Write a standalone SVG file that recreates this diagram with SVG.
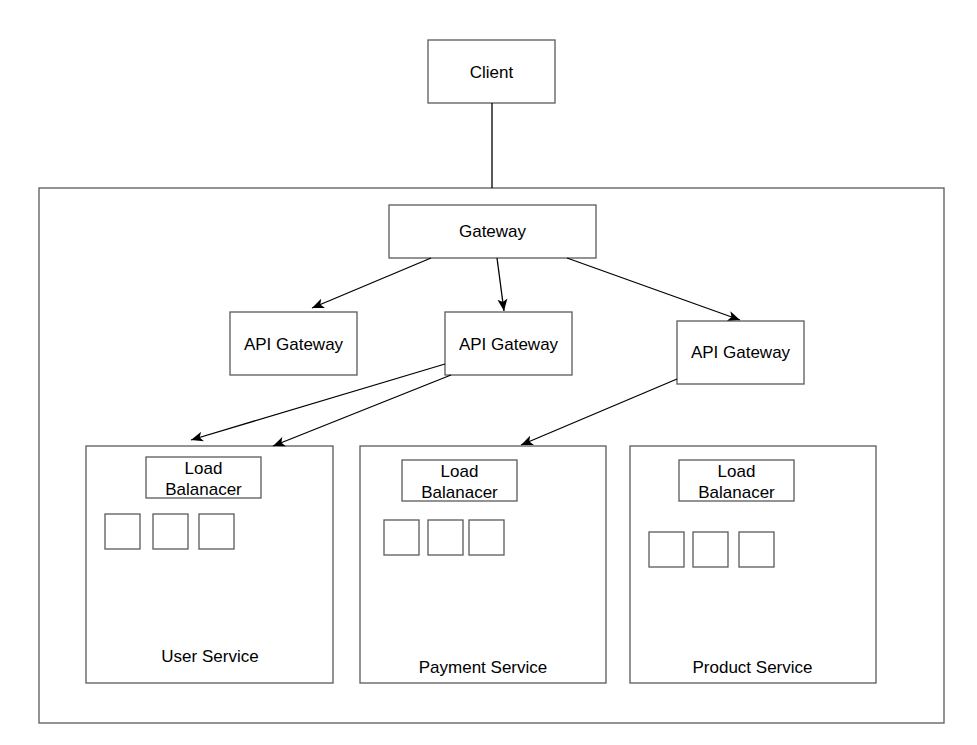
<svg xmlns="http://www.w3.org/2000/svg" width="977" height="745" viewBox="0 0 977 745">
<defs>
<style>
.box{fill:#ffffff;stroke:#5a5a5a;stroke-width:1.3}
.edge{fill:none;stroke:#000000;stroke-width:1.3}
text{font-family:"Liberation Sans",Arial,sans-serif;font-size:17px;fill:#000000;text-anchor:middle}
</style>
<marker id="arr" markerWidth="14" markerHeight="11" refX="12" refY="5.5" orient="auto" markerUnits="userSpaceOnUse">
<path d="M0,0.5 L12,5.5 L0,10.5 L3,5.5 Z" fill="#000000"/>
</marker>
</defs>
<rect width="977" height="745" fill="#ffffff"/>
<g id="container"><rect class="box" x="39" y="188" width="905" height="535"/></g>
<g id="client"><rect class="box" x="428" y="40" width="127" height="63"/><text x="491.5" y="78">Client</text></g>
<g id="gateway"><rect class="box" x="389" y="205" width="207" height="53"/><text x="492.5" y="237">Gateway</text></g>
<g id="api1"><rect class="box" x="230" y="312" width="127" height="63"/><text x="293.5" y="350">API Gateway</text></g>
<g id="api2"><rect class="box" x="445" y="312" width="127" height="63"/><text x="508.5" y="350">API Gateway</text></g>
<g id="api3"><rect class="box" x="677" y="321" width="127" height="63"/><text x="740.5" y="358">API Gateway</text></g>
<g id="user-service">
<rect class="box" x="86" y="446" width="247" height="237"/>
<rect class="box" x="146" y="457" width="115" height="41"/>
<text x="203.5" y="474">Load</text><text x="203.5" y="495">Balanacer</text>
<rect class="box" x="105" y="514" width="35" height="35"/>
<rect class="box" x="153" y="514" width="35" height="35"/>
<rect class="box" x="199" y="514" width="35" height="35"/>
<text x="210" y="662">User Service</text>
</g>
<g id="payment-service">
<rect class="box" x="360" y="446" width="246" height="237"/>
<rect class="box" x="402" y="460" width="115" height="41"/>
<text x="459.5" y="477">Load</text><text x="459.5" y="498">Balanacer</text>
<rect class="box" x="384" y="520" width="35" height="35"/>
<rect class="box" x="428" y="520" width="35" height="35"/>
<rect class="box" x="469" y="520" width="35" height="35"/>
<text x="483" y="673">Payment Service</text>
</g>
<g id="product-service">
<rect class="box" x="630" y="446" width="246" height="237"/>
<rect class="box" x="679" y="460" width="115" height="41"/>
<text x="736.5" y="477">Load</text><text x="736.5" y="498">Balanacer</text>
<rect class="box" x="649" y="532" width="35" height="35"/>
<rect class="box" x="693" y="532" width="35" height="35"/>
<rect class="box" x="739" y="532" width="35" height="35"/>
<text x="752.5" y="673">Product Service</text>
</g>
<g id="connectors">
<line class="edge" x1="492" y1="103" x2="492" y2="188"/>
<line class="edge" x1="431" y1="258" x2="312" y2="308" marker-end="url(#arr)"/>
<line class="edge" x1="497" y1="258" x2="504" y2="311" marker-end="url(#arr)"/>
<line class="edge" x1="567" y1="258" x2="740" y2="320" marker-end="url(#arr)"/>
<line class="edge" x1="445" y1="364" x2="191" y2="440" marker-end="url(#arr)"/>
<line class="edge" x1="451" y1="375" x2="273" y2="446" marker-end="url(#arr)"/>
<line class="edge" x1="677" y1="379" x2="521" y2="445" marker-end="url(#arr)"/>
</g>
</svg>
